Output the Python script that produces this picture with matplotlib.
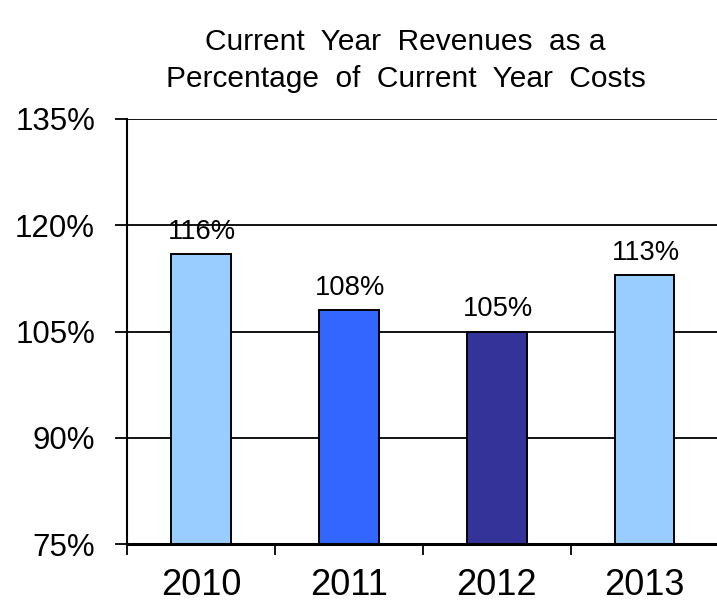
import matplotlib
matplotlib.use("Agg")
import matplotlib.pyplot as plt
from matplotlib import font_manager
import numpy as np

plt.rcParams['font.family'] = ['Liberation Sans', 'DejaVu Sans']

years = ['2010', '2011', '2012', '2013']
values = [116, 108, 105, 113]
labels = ['116%', '108%', '105%', '113%']
colors = ['#99CCFF', '#3366FF', '#333399', '#99CCFF']
yticks = [75, 90, 105, 120, 135]

# condensed face for the year labels, if we have one
narrow = None
for fam in ['Liberation Sans Narrow', 'DejaVu Sans Condensed']:
    try:
        font_manager.findfont(font_manager.FontProperties(family=fam), fallback_to_default=False)
        narrow = fam
        break
    except Exception:
        pass

fig = plt.figure(figsize=(7.17, 6.13), dpi=100)
ax = fig.add_axes([127 / 717, 69 / 613, 590 / 717, 425 / 613])

x = np.arange(len(years))
bars = ax.bar(x, values, width=0.405, color=colors, edgecolor='black',
              linewidth=1.4, zorder=3)
for b, lab in zip(bars, labels):
    ax.annotate(lab, (b.get_x() + b.get_width() / 2, b.get_height()),
                xytext=(1, 10.8), textcoords='offset points',
                ha='center', va='baseline', fontsize=19.7, zorder=4)

ax.set_ylim(75, 135)
ax.set_xlim(-0.5, 3.49)
ax.set_yticks(yticks)
ax.set_yticklabels([f'{v}%' for v in yticks], fontsize=22.5)
ax.yaxis.grid(True, color='black', linewidth=1.3, zorder=1)
ax.tick_params(axis='y', length=9, width=1.3, pad=14)

ax.set_xticks(x)
if narrow:
    ax.set_xticklabels(years, fontsize=30, family=[narrow, 'Liberation Sans'])
else:
    ax.set_xticklabels(years, fontsize=26)
ax.set_xticks([-0.5, 0.5, 1.5, 2.5], minor=True)
ax.tick_params(axis='x', which='major', length=0, pad=17)
ax.tick_params(axis='x', which='minor', length=8, width=1.3, direction='out')

for s in ['top', 'right']:
    ax.spines[s].set_visible(False)
ax.spines['left'].set_linewidth(1.5)
ax.spines['bottom'].set_linewidth(2.2)
ax.spines['bottom'].set_zorder(5)

fig.text(405 / 717, 1 - 50 / 613, 'Current  Year  Revenues  as a',
         ha='center', va='baseline', fontsize=21.5)
fig.text(406 / 717, 1 - 87 / 613, 'Percentage  of  Current  Year  Costs',
         ha='center', va='baseline', fontsize=21.5)

fig.savefig('out.png', dpi=100)
